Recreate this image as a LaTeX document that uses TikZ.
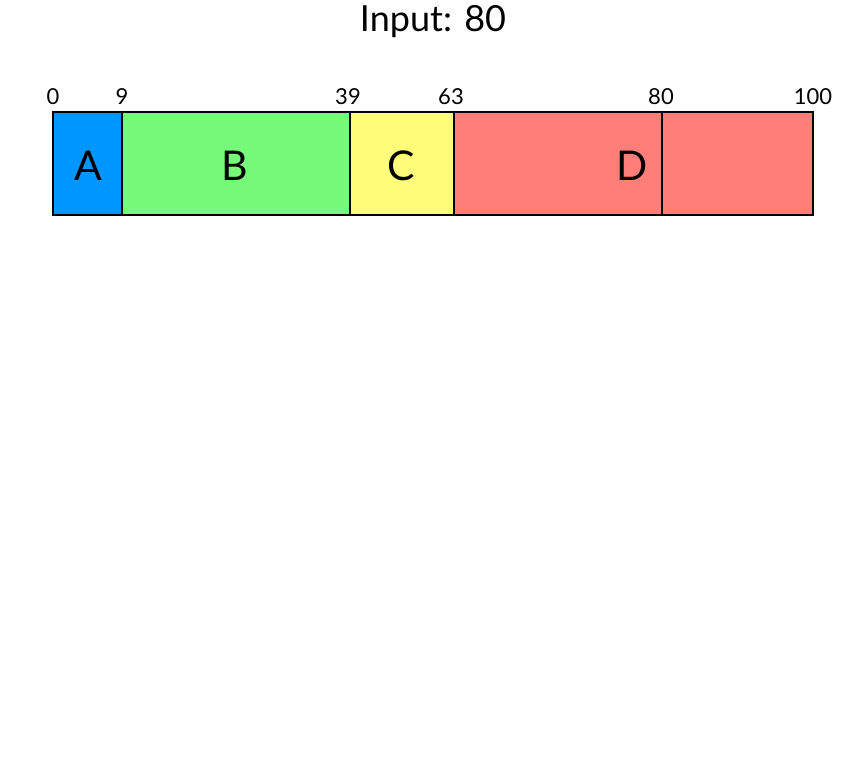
\documentclass[tikz,border=0pt]{standalone}
\usepackage{fontspec}
\setmainfont{Lato}

\definecolor{aqua}{HTML}{0096FF}
\definecolor{flora}{HTML}{76FA7A}
\definecolor{banana}{HTML}{FFFC79}
\definecolor{salmon}{HTML}{FF7E79}

\tikzset{
  part/.style={draw=black,line width=2pt},
  tick/.style={anchor=base,inner sep=0pt,font=\fontsize{22}{24}\selectfont},
  letter/.style={inner sep=0pt,font=\fontsize{41}{44}\selectfont}
}

\begin{document}
\begin{tikzpicture}[x=1pt,y=-1pt]
  \path[fill=white,use as bounding box] (0,0) rectangle (860,760);
  \node[inner sep=0pt,font=\fontsize{36}{40}\selectfont] (title) at (433,22) {Input: 80};

  \draw[part,fill=aqua] (53,112) rectangle (122,215);
  \draw[part,fill=flora] (122,112) rectangle (350,215);
  \draw[part,fill=banana] (350,112) rectangle (454,215);
  \draw[part,fill=salmon] (454,112) rectangle (662,215);
  \draw[part,fill=salmon] (662,112) rectangle (813,215);

  \node[tick] (t0) at (53,104) {0};
  \node[tick] (t9) at (122,104) {9};
  \node[tick] (t39) at (348,104) {39};
  \node[tick] (t63) at (451,104) {63};
  \node[tick] (t80) at (661,104) {80};
  \node[tick] (t100) at (813,104) {100};

  \node[letter] (a) at (88,166) {A};
  \node[letter] (b) at (235,166) {B};
  \node[letter] (c) at (401,166) {C};
  \node[letter] (d) at (632,166) {D};
\end{tikzpicture}
\end{document}
